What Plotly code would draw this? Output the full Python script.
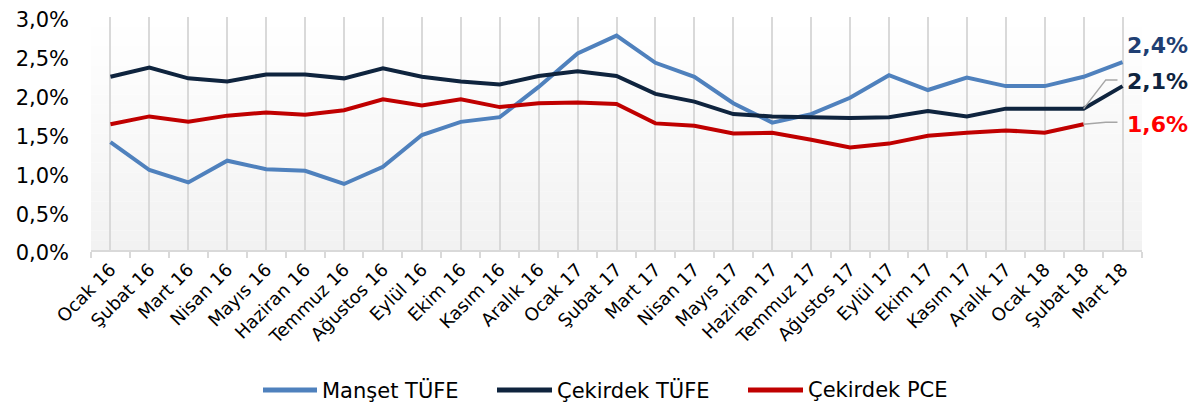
import plotly.graph_objects as go

months = ["Ocak 16", "Şubat 16", "Mart 16", "Nisan 16", "Mayıs 16", "Haziran 16", "Temmuz 16",
          "Ağustos 16", "Eylül 16", "Ekim 16", "Kasım 16", "Aralık 16", "Ocak 17", "Şubat 17",
          "Mart 17", "Nisan 17", "Mayıs 17", "Haziran 17", "Temmuz 17", "Ağustos 17", "Eylül 17",
          "Ekim 17", "Kasım 17", "Aralık 17", "Ocak 18", "Şubat 18", "Mart 18"]

manset_tufe = [1.39, 1.03, 0.87, 1.15, 1.04, 1.02, 0.85, 1.07, 1.48, 1.65, 1.71, 2.10, 2.53, 2.76,
               2.41, 2.23, 1.89, 1.64, 1.75, 1.96, 2.25, 2.06, 2.22, 2.11, 2.11, 2.23, 2.42]
cekirdek_tufe = [2.23, 2.35, 2.21, 2.17, 2.26, 2.26, 2.21, 2.34, 2.23, 2.17, 2.13, 2.24, 2.30, 2.24,
                 2.01, 1.91, 1.75, 1.72, 1.71, 1.70, 1.71, 1.79, 1.72, 1.82, 1.82, 1.82, 2.11]
cekirdek_pce = [1.62, 1.72, 1.65, 1.73, 1.77, 1.74, 1.80, 1.94, 1.86, 1.94, 1.84, 1.89, 1.90, 1.88,
                1.63, 1.60, 1.50, 1.51, 1.42, 1.32, 1.37, 1.47, 1.51, 1.54, 1.51, 1.62, None]

series_names = ["Manşet TÜFE", "Çekirdek TÜFE", "Çekirdek PCE"]
colors = ["#4f81bd", "#0f243e", "#c00000"]
label_colors = ["#1f3f73", "#0f243e", "#ff0000"]

FONT = "DejaVu Sans, Verdana, sans-serif"

# the page body adds an 8px margin, so the figure is sized/offset to compensate
OFF = 8
W, H = 1200 - OFF, 407 - OFF
ML, MR, MT, MB = 91 - OFF, 58, 17 - OFF, 157

PW, PH = W - ML - MR, H - MT - MB

def px_x(p):  # page pixel -> paper x
    return (p - OFF - ML) / PW

def px_y(p):  # page pixel -> paper y
    return (H - MB - (p - OFF)) / PH

fig = go.Figure()
for name, vals, col in zip(series_names, [manset_tufe, cekirdek_tufe, cekirdek_pce], colors):
    fig.add_trace(go.Scatter(x=months, y=vals, mode="lines", name=name,
                             line=dict(color=col, width=4), cliponaxis=False, showlegend=False))

# gridlines at category centres via overlaid axis
fig.add_trace(go.Scatter(x=months, y=[None] * len(months), xaxis="x2", showlegend=False,
                         hoverinfo="skip"))

# gradient background
shapes = []
nb = 24
for i in range(nb):
    t = i / (nb - 1)
    g = int(round(242 + (255 - 242) * t))
    shapes.append(dict(type="rect", xref="paper", yref="paper", x0=0, x1=1,
                       y0=i / nb, y1=(i + 1) / nb, fillcolor=f"rgb({g},{g},{g})",
                       line=dict(width=0), layer="below"))

# leader lines for end labels
last_i = len(months) - 1
prev_i = last_i - 1
shapes.append(dict(type="path", xref="x", yref="y", layer="above",
                   path=f"M {prev_i},{cekirdek_tufe[prev_i]} L {prev_i + 0.57},2.19 L {prev_i + 0.87},2.19",
                   line=dict(color="#a6a6a6", width=1.5)))
shapes.append(dict(type="path", xref="x", yref="y", layer="above",
                   path=f"M {prev_i},{cekirdek_pce[prev_i]} L {prev_i + 0.57},1.645 L {prev_i + 0.87},1.645",
                   line=dict(color="#a6a6a6", width=1.5)))

def fmt(v):
    return f"{v:.1f}".replace(".", ",") + "%"

annotations = [
    dict(x=months[last_i], y=manset_tufe[last_i], text=f"<b>{fmt(manset_tufe[last_i])}</b>",
         xanchor="left", yanchor="middle", xshift=2, yshift=17, showarrow=False,
         font=dict(family=FONT, size=22, color=label_colors[0])),
    dict(x=months[last_i], y=cekirdek_tufe[last_i], text=f"<b>{fmt(cekirdek_tufe[last_i])}</b>",
         xanchor="left", yanchor="middle", xshift=2, yshift=5, showarrow=False,
         font=dict(family=FONT, size=22, color=label_colors[1])),
    dict(x=months[last_i], y=cekirdek_pce[prev_i], text=f"<b>{fmt(cekirdek_pce[prev_i])}</b>",
         xanchor="left", yanchor="middle", xshift=2, yshift=0, showarrow=False,
         font=dict(family=FONT, size=22, color=label_colors[2])),
]

# custom legend (long line samples as in the original)
legend_line_px = [(263, 317), (497, 552), (748, 803)]
legend_y_px = 390
for name, col, (a, b) in zip(series_names, colors, legend_line_px):
    shapes.append(dict(type="line", xref="paper", yref="paper",
                       x0=px_x(a), x1=px_x(b), y0=px_y(legend_y_px), y1=px_y(legend_y_px),
                       line=dict(color=col, width=5)))
    annotations.append(dict(xref="paper", yref="paper", x=px_x(b + 3), y=px_y(legend_y_px),
                            xanchor="left", yanchor="middle", text=name, showarrow=False,
                            font=dict(family=FONT, size=21, color="#000")))

fig.update_layout(
    width=W, height=H,
    margin=dict(l=ML, r=MR, t=MT, b=MB),
    paper_bgcolor="white", plot_bgcolor="white",
    separators=",.",
    font=dict(family=FONT, color="#000000"),
    showlegend=False,
    xaxis=dict(type="category", categoryorder="array", categoryarray=months,
               tickson="boundaries", ticks="outside", ticklen=6, tickcolor="#d9d9d9", tickwidth=1.5,
               showgrid=False, showline=True, linecolor="#d9d9d9", linewidth=2,
               tickangle=-45, tickfont=dict(family=FONT, size=18, color="#000"),
               range=[-0.5, len(months) - 0.5], zeroline=False, automargin=False),
    xaxis2=dict(type="category", categoryorder="array", categoryarray=months,
                overlaying="x", matches="x", showgrid=True, gridcolor="#d9d9d9", gridwidth=1.5,
                showticklabels=False, ticks="", showline=False, zeroline=False, automargin=False),
    yaxis=dict(range=[0, 3.0], dtick=0.5, tick0=0, tickformat=".1f", ticksuffix="%",
               showgrid=False, zeroline=False, showline=False, ticks="",
               tickfont=dict(family=FONT, size=21, color="#000"), ticklabelstandoff=21,
               ticklabeloverflow="allow", ticklabelshift=3, automargin=False),
    shapes=shapes,
    annotations=annotations,
)

fig.write_html("out.html")
